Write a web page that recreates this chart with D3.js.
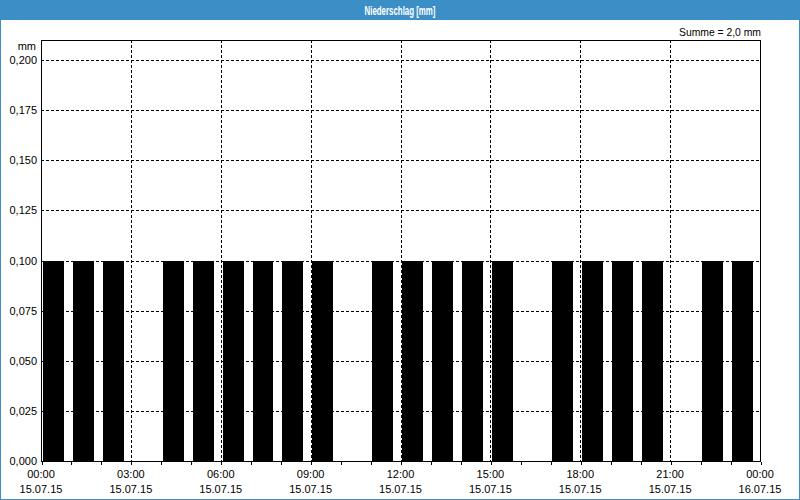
<!DOCTYPE html>
<html>
<head>
<meta charset="utf-8">
<script src="https://cdn.jsdelivr.net/npm/d3@7.9.0/dist/d3.min.js"></script>
<style>
  body { margin: 0; background: #fff; }
  svg { display: block; font-family: "Liberation Sans", Arial, sans-serif; }
</style>
</head>
<body>
<svg id="chart" width="800" height="500"></svg>
<script>
// hourly precipitation, 15.07.15 (hour of day -> mm)
const hours = d3.range(0, 24);
const values = [0.1, 0.1, 0.1, 0, 0.1, 0.1, 0.1, 0.1, 0.1, 0.1, 0, 0.1,
                0.1, 0.1, 0.1, 0.1, 0, 0.1, 0.1, 0.1, 0.1, 0, 0.1, 0.1];
const yTicks = [0, 0.025, 0.05, 0.075, 0.1, 0.125, 0.15, 0.175, 0.2];
const xTickHours = [0, 3, 6, 9, 12, 15, 18, 21, 24];
const xTickTimes = ["00:00", "03:00", "06:00", "09:00", "12:00", "15:00", "18:00", "21:00", "00:00"];
const xTickDates = ["15.07.15", "15.07.15", "15.07.15", "15.07.15", "15.07.15", "15.07.15", "15.07.15", "15.07.15", "16.07.15"];
const title = "Niederschlag [mm]";
const sumLabel = "Summe = 2,0 mm";

const width = 800, height = 500;
const area = { left: 41, right: 760, top: 40, bottom: 461 };

const svg = d3.select("#chart");
const fmt = d3.format(".3f");

// window frame + title bar
svg.append("rect").attr("x", 0.5).attr("y", 0.5).attr("width", width - 1).attr("height", height - 1)
    .attr("fill", "#fff").attr("stroke", "#3c8fc6");
svg.append("rect").attr("x", 0).attr("y", 0).attr("width", width).attr("height", 20).attr("fill", "#3c8fc6");
svg.append("text").attr("x", width / 2).attr("y", 15).attr("text-anchor", "middle")
    .attr("fill", "#fff").style("font-size", "12px").style("font-weight", "bold")
    .attr("textLength", 71).attr("lengthAdjust", "spacingAndGlyphs")
    .text(title);

const x = d3.scaleLinear().domain([0, 24]).range([area.left, area.right]);
const y = d3.scaleLinear().domain([0, 0.2]).range([area.bottom, 60]);

// gridlines
const grid = svg.append("g").attr("stroke", "#000").attr("stroke-dasharray", "3,2").attr("shape-rendering", "crispEdges");
grid.selectAll(".h").data(yTicks.filter(d => d > 0)).join("line")
    .attr("x1", area.left).attr("x2", area.right)
    .attr("y1", d => Math.round(y(d)) + 0.5).attr("y2", d => Math.round(y(d)) + 0.5);
grid.selectAll(".v").data(xTickHours.filter(d => d > 0 && d < 24)).join("line")
    .attr("y1", area.top).attr("y2", area.bottom)
    .attr("x1", d => Math.round(x(d)) + 0.5).attr("x2", d => Math.round(x(d)) + 0.5);

// bars
svg.append("g").selectAll("rect").data(hours.filter((h, i) => values[i] > 0)).join("rect")
    .attr("x", h => x(h + 0.06))
    .attr("width", x(0.76) - x(0.06))
    .attr("y", h => y(values[h]))
    .attr("height", h => y(0) - y(values[h]))
    .attr("fill", "#000")
    .attr("shape-rendering", "crispEdges");

// frame
const frame = svg.append("g").attr("stroke", "#000").attr("fill", "none").attr("shape-rendering", "crispEdges");
frame.append("path").attr("d", `M${area.left + 0.5},${area.bottom + 0.5}V${area.top + 0.5}H${area.right + 0.5}V${area.bottom + 0.5}H${area.left + 0.5}`);

// x axis: hourly minor ticks, labels every 3 hours
const xAxis = d3.axisBottom(x).tickValues(d3.range(0, 25)).tickSize(3).tickFormat("");
const gx = svg.append("g").attr("transform", `translate(0.5,${area.bottom + 0.5})`).call(xAxis);
gx.select(".domain").remove();
gx.selectAll("line").attr("shape-rendering", "crispEdges");

const labels = svg.append("g").style("font-size", "11px").attr("fill", "#000").attr("text-anchor", "middle");
xTickHours.forEach((h, i) => {
    labels.append("text").attr("x", x(h)).attr("y", 478).text(xTickTimes[i]);
    labels.append("text").attr("x", x(h)).attr("y", 493).text(xTickDates[i]);
});

// y axis labels
const yl = svg.append("g").style("font-size", "11px").attr("fill", "#000").attr("text-anchor", "end");
yl.selectAll("text").data(yTicks).join("text")
    .attr("x", 37).attr("y", d => y(d) + 4)
    .text(d => fmt(d).replace(".", ","));
yl.append("text").attr("x", 36).attr("y", 50).text("mm");

svg.append("text").attr("x", 761).attr("y", 36).attr("text-anchor", "end")
    .style("font-size", "11px").attr("textLength", 82).attr("lengthAdjust", "spacingAndGlyphs")
    .text(sumLabel);
</script>
</body>
</html>
